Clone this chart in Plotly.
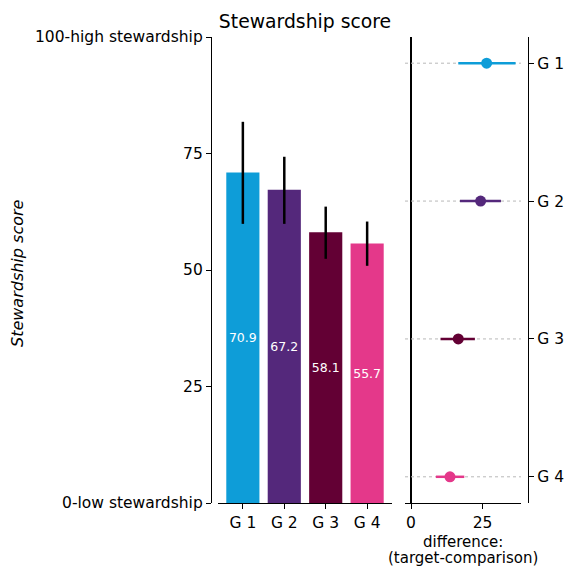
import plotly.graph_objects as go

groups = ["G 1", "G 2", "G 3", "G 4"]
scores = [70.9, 67.2, 58.1, 55.7]
score_hi = [81.8, 74.3, 63.6, 60.4]
score_lo = [59.9, 59.9, 52.4, 50.9]
diff = [26.4, 24.3, 16.5, 13.6]
diff_lo = [16.5, 17.1, 10.3, 8.7]
diff_hi = [36.5, 31.4, 22.3, 18.6]
colors = ["#0E9DD8", "#54287B", "#630034", "#E4388A"]
ytick_vals = [0, 25, 50, 75, 100]
ytick_text = ["0-low stewardship", "25", "50", "75", "100-high stewardship"]
diff_ticks = [0, 25]

W, H = 569, 566
def px(x):
    return x / W
def py(y):
    return (H - y) / H

FONT = "DejaVu Sans"
FS = 15.5
fig = go.Figure()

fig.add_trace(go.Bar(
    x=groups, y=scores,
    marker=dict(color=colors, line=dict(width=0)),
    width=0.8,
    text=[f"{v:.1f}" for v in scores],
    textposition="inside", insidetextanchor="middle",
    textangle=0, constraintext="none",
    textfont=dict(color="white", size=12.5, family=FONT),
    error_y=dict(type="data", symmetric=False,
                 array=[h - s for h, s in zip(score_hi, scores)],
                 arrayminus=[s - l for s, l in zip(scores, score_lo)],
                 color="black", thickness=2.5, width=0),
    xaxis="x", yaxis="y", showlegend=False, hoverinfo="skip",
))

for i, g in enumerate(groups):
    fig.add_trace(go.Scatter(
        x=[-2.1, 38.4], y=[g, g], mode="lines",
        line=dict(color="#b8b8b8", width=1, dash="dot"),
        xaxis="x2", yaxis="y2", showlegend=False, hoverinfo="skip",
    ))
for i, g in enumerate(groups):
    fig.add_trace(go.Scatter(
        x=[diff[i]], y=[g], mode="markers",
        marker=dict(color=colors[i], size=11),
        error_x=dict(type="data", symmetric=False,
                     array=[diff_hi[i] - diff[i]],
                     arrayminus=[diff[i] - diff_lo[i]],
                     color=colors[i], thickness=2.5, width=0),
        xaxis="x2", yaxis="y2", showlegend=False,
    ))

tickfont = dict(family=FONT, size=FS, color="black")
fig.update_layout(
    width=W, height=H,
    margin=dict(l=0, r=0, t=0, b=0, autoexpand=False),
    plot_bgcolor="white", paper_bgcolor="white",
    font=dict(family=FONT, color="black"),
    bargap=0.2,
    title=dict(text="Stewardship score", x=px(305), xanchor="center",
               y=py(21), yanchor="middle", font=dict(size=18.8, family=FONT),
               automargin=False),
    xaxis=dict(domain=[px(218), px(392)], range=[-0.6, 3.6],
               showline=True, linecolor="black", linewidth=1.3,
               ticks="outside", ticklen=5, tickcolor="black",
               tickfont=tickfont, anchor="y", showgrid=False, automargin=False),
    yaxis=dict(domain=[py(503), py(37)], range=[0, 100],
               anchor="free", position=px(211),
               tickvals=ytick_vals, ticktext=ytick_text,
               showline=True, linecolor="black", linewidth=1.3,
               ticks="outside", ticklen=5, tickcolor="black",
               tickfont=tickfont, showgrid=False, zeroline=False, automargin=False),
    xaxis2=dict(domain=[px(405), px(521)], range=[-2.1, 38.4],
                anchor="y2", tickvals=diff_ticks,
                showline=True, linecolor="black", linewidth=1.3,
                ticks="outside", ticklen=5, tickcolor="black",
                tickfont=tickfont, showgrid=False, automargin=False,
                zeroline=True, zerolinecolor="black", zerolinewidth=2),
    yaxis2=dict(domain=[py(503), py(37)], range=[3.19, -0.19],
                type="category", categoryorder="array", categoryarray=groups,
                anchor="free", position=px(528), side="right",
                showline=True, linecolor="black", linewidth=1.3,
                ticks="outside", ticklen=5, tickcolor="black",
                tickfont=tickfont, showgrid=False, zeroline=False, automargin=False),
    annotations=[
        dict(text="Stewardship score", textangle=-90,
             x=px(17), y=py(273), xref="paper", yref="paper",
             xanchor="center", yanchor="middle", showarrow=False,
             font=dict(size=16, family=FONT, style="italic")),
        dict(text="difference:", x=px(463), y=py(541.5), xref="paper", yref="paper",
             xanchor="center", yanchor="middle", showarrow=False,
             font=dict(size=15, family=FONT)),
        dict(text="(target-comparison)", x=px(463), y=py(557.5), xref="paper", yref="paper",
             xanchor="center", yanchor="middle", showarrow=False,
             font=dict(size=15, family=FONT)),
    ],
)

fig.write_html(
    "out.html",
    config={"displayModeBar": False},
    post_script="document.body.style.margin='0';document.body.style.overflow='hidden';",
)
